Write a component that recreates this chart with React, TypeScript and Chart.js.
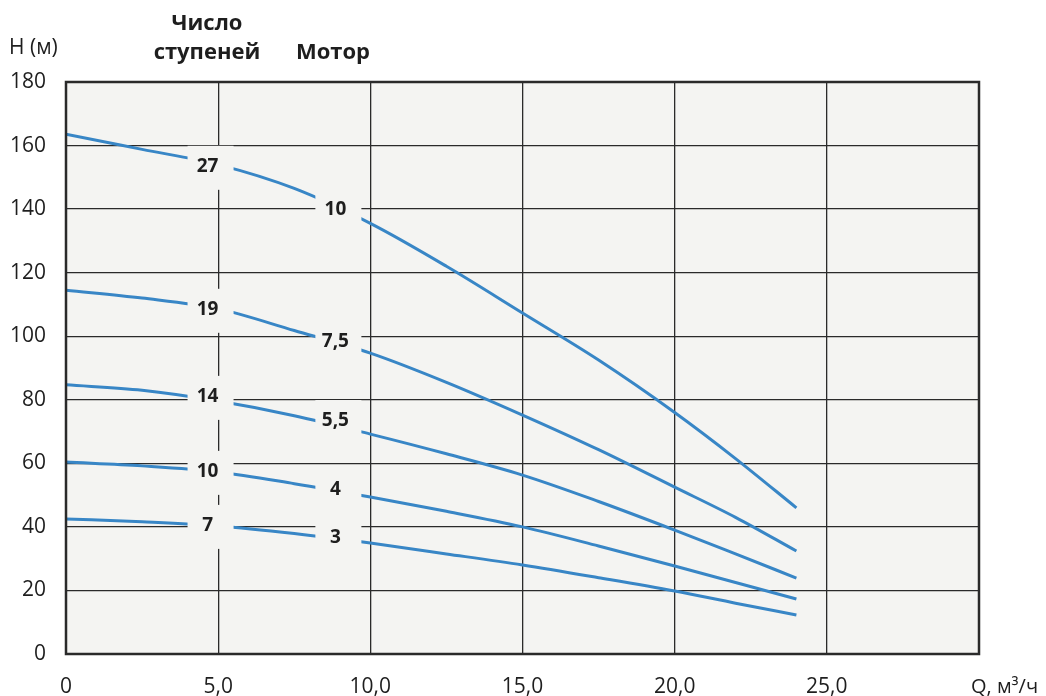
import React, { useEffect, useRef } from "react";
import { Chart, registerables } from "chart.js";

Chart.register(...registerables);

const flowQ = [0, 2.5, 5, 7.5, 10, 12.5, 15, 17.5, 20, 22, 24];
const head27 = [163.6, 158.8, 154, 146.5, 135.5, 122, 107.3, 92.5, 76, 61.5, 46];
const head19 = [114.5, 112, 108.6, 101.8, 94.7, 85.5, 75.2, 64.3, 52.5, 43, 32.4];
const head14 = [84.7, 83, 79.6, 75, 69.2, 63, 56.3, 48, 39, 31.5, 23.9];
const head10 = [60.4, 59.2, 57.3, 53.6, 49.4, 44.9, 40, 34, 27.7, 22.5, 17.3];
const head7 = [42.5, 41.6, 40.3, 37.9, 34.9, 31.5, 28, 24, 19.8, 16, 12.3];

const stageLabels = ["27", "19", "14", "10", "7"];
const stageLabelQ = [4.75, 4.75, 4.75, 4.75, 4.75];
const stageLabelH = [153, 108, 80.6, 57, 40];
const motorLabels = ["10", "7,5", "5,5", "4", "3"];
const motorLabelQ = [8.95, 8.95, 8.95, 8.95, 8.95];
const motorLabelH = [139.4, 97.9, 73, 51.3, 36.2];

const xTicks = [0, 5, 10, 15, 20, 25, 30];
const xTickText = ["0", "5,0", "10,0", "15,0", "20,0", "25,0", ""];

const FONT = "'Open Sans', 'Noto Sans', sans-serif";
const BG = "#f4f4f2";
const LINE = "#3886c6";

const series = [head27, head19, head14, head10, head7];

export default function App() {
  const ref = useRef<HTMLCanvasElement | null>(null);
  useEffect(() => {
    document.body.style.margin = "0";
    const canvas = ref.current!;
    const decor = {
      id: "decor",
      beforeDraw(chart: any) {
        const { ctx, chartArea: a } = chart;
        ctx.save();
        ctx.fillStyle = BG;
        ctx.fillRect(a.left, a.top, a.right - a.left, a.bottom - a.top);
        ctx.restore();
      },
      afterDatasetsDraw(chart: any) {
        const { ctx, chartArea: a, scales } = chart;
        const xs = scales.x, ys = scales.y;
        ctx.save();
        ctx.font = `bold 19px ${FONT}`;
        ctx.textAlign = "center";
        ctx.textBaseline = "middle";
        const drawLabel = (t: string, q: number, h: number) => {
          const px = xs.getPixelForValue(q);
          const py = ys.getPixelForValue(h);
          ctx.fillStyle = BG;
          ctx.fillRect(px - 23, py - 22, 46, 44);
          ctx.fillStyle = "#1e1e1e";
          ctx.fillText(t, px - 3, py - 1);
        };
        stageLabels.forEach((t, i) => drawLabel(t, stageLabelQ[i], stageLabelH[i]));
        motorLabels.forEach((t, i) => drawLabel(t, motorLabelQ[i], motorLabelH[i]));
        // border
        ctx.strokeStyle = "#2a2a2a";
        ctx.lineWidth = 2.5;
        ctx.strokeRect(a.left, a.top, a.right - a.left, a.bottom - a.top);
        // titles
        ctx.fillStyle = "#1e1e1e";
        ctx.textBaseline = "alphabetic";
        ctx.font = `bold 22px ${FONT}`;
        ctx.fillText("Число", 207, 30);
        ctx.fillText("ступеней", 207, 59);
        ctx.fillText("Мотор", 333, 59);
        ctx.font = `21px ${FONT}`;
        ctx.textAlign = "left";
        ctx.fillText("H (м)", 9, 54);
        ctx.font = `20px ${FONT}`;
        ctx.fillText("Q, м³/ч", 971, 693);
        ctx.restore();
      },
    };
    const chart = new Chart(canvas, {
      type: "line",
      data: {
        datasets: series.map((s) => ({
          data: s.map((h, i) => ({ x: flowQ[i], y: h })),
          borderColor: LINE,
          borderWidth: 3,
          pointRadius: 0,
          cubicInterpolationMode: "monotone" as const,
          fill: false,
        })),
      },
      options: {
        animation: false,
        responsive: false,
        layout: { padding: { top: 82, right: 67, left: 0, bottom: 0 } },
        plugins: { legend: { display: false }, tooltip: { enabled: false } },
        scales: {
          x: {
            type: "linear",
            min: 0,
            max: 30,
            afterBuildTicks: (s: any) => {
              s.ticks = xTicks.map((v) => ({ value: v }));
            },
            afterFit: (s: any) => {
              s.height = 42;
            },
            grid: { color: "#2a2a2a", lineWidth: 1.3, drawTicks: false },
            border: { display: false },
            ticks: {
              padding: 20,
              color: "#1e1e1e",
              font: { family: FONT, size: 21 },
              maxRotation: 0,
              callback: (v: any) => xTickText[xTicks.indexOf(Number(v))] ?? "",
            },
          },
          y: {
            type: "linear",
            min: 0,
            max: 180,
            afterFit: (s: any) => {
              s.width = 66;
            },
            grid: { color: "#2a2a2a", lineWidth: 1.3, drawTicks: false },
            border: { display: false },
            ticks: {
              stepSize: 20,
              padding: 20,
              color: "#1e1e1e",
              font: { family: FONT, size: 21 },
            },
          },
        },
      },
      plugins: [decor],
    });
    return () => chart.destroy();
  }, []);
  return (
    <div style={{ position: "absolute", left: 0, top: 0 }}>
      <canvas ref={ref} width={1046} height={696} style={{ width: 1046, height: 696, display: "block" }} />
    </div>
  );
}
